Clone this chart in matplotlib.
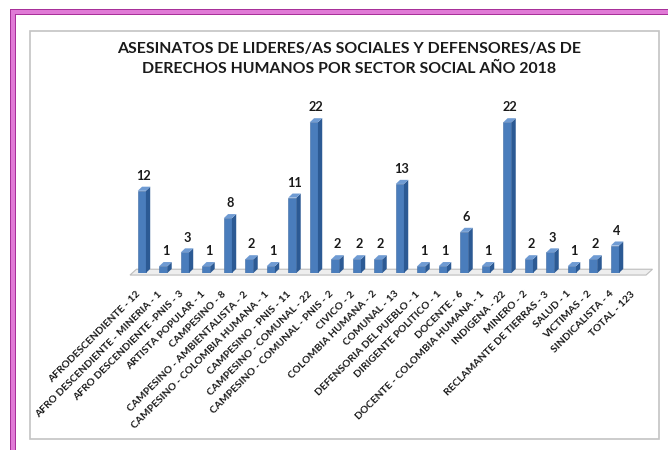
import matplotlib
matplotlib.use('Agg')
import matplotlib.pyplot as plt
from matplotlib.patches import Polygon, Rectangle

categorias = ['AFRODESCENDIENTE - 12', 'AFRO DESCENDIENTE - MINERIA - 1',
              'AFRO DESCENDIENTE -PNIS - 3', 'ARTISTA POPULAR - 1', 'CAMPESINO - 8',
              'CAMPESINO - AMBIENTALISTA - 2', 'CAMPESINO - COLOMBIA HUMANA - 1',
              'CAMPESINO - PNIS - 11', 'CAMPESINO - COMUNAL - 22',
              'CAMPESINO - COMUNAL - PNIS - 2', 'CIVICO - 2', 'COLOMBIA HUMANA - 2',
              'COMUNAL - 13', 'DEFENSORIA DEL PUEBLO - 1', 'DIRIGENTE POLITICO - 1',
              'DOCENTE - 6', 'DOCENTE - COLOMBIA HUMANA - 1', 'INDIGENA - 22',
              'MINERO - 2', 'RECLAMANTE DE TIERRAS - 3', 'SALUD - 1', 'VICTIMAS - 2',
              'SINDICALISTA - 4', 'TOTAL - 123']
valores = [12, 1, 3, 1, 8, 2, 1, 11, 22, 2, 2, 2, 13, 1, 1, 6, 1, 22, 2, 3, 1, 2, 4]

titulo = 'ASESINATOS DE LIDERES/AS SOCIALES Y DEFENSORES/AS DE\nDERECHOS HUMANOS POR SECTOR SOCIAL AÑO 2018'

plt.rcParams['font.family'] = ['Lato', 'DejaVu Sans']

W, H = 668, 450
fig = plt.figure(figsize=(W / 100, H / 100), dpi=100)

# marco rosado
fig.add_artist(Rectangle((10 / W, 0), 6 / W, 1 - 9 / H, transform=fig.transFigure,
                         facecolor='#a8309a', edgecolor='none'))
fig.add_artist(Rectangle((10 / W, 1 - 15 / H), 1, 6 / H, transform=fig.transFigure,
                         facecolor='#a8309a', edgecolor='none'))
fig.add_artist(Rectangle((11 / W, 0), 4 / W, 1 - 10 / H, transform=fig.transFigure,
                         facecolor='#e07ad6', edgecolor='none'))
fig.add_artist(Rectangle((11 / W, 1 - 14 / H), 1, 4 / H, transform=fig.transFigure,
                         facecolor='#e07ad6', edgecolor='none'))
# recuadro gris
fig.add_artist(Rectangle((30 / W, 11 / H), 629 / W, 408 / H, transform=fig.transFigure,
                         facecolor='none', edgecolor='#c4c4c4', lw=1.2))

fig.text(349 / W, 1 - 42 / H, titulo, ha='center', va='top', fontsize=11.4,
         fontweight='bold', color='#1a1a1a', linespacing=1.5)

ax = fig.add_axes([130 / W, 177 / H, 522.5 / W, 164.4 / H])
ax.set_xlim(-0.55, 23.75)
ax.set_ylim(0, 24)
ax.axis('off')

ancho = 0.38
dx, dy = 0.2, 0.6
x = list(range(len(valores)))

# piso
x0, x1 = -0.55, 23.45
ax.add_patch(Polygon([(x0, -0.3), (x1, -0.3), (x1 + 0.3, 0.55), (x0 + 0.3, 0.55)],
                     closed=True, facecolor='#eeeeee', edgecolor='#bdbdbd', lw=0.8,
                     clip_on=False, zorder=1))

ax.bar(x, valores, width=ancho, color='#4a7dbc', edgecolor='#3d6aa3', lw=0.4, zorder=3)
for xi, v in zip(x, valores):
    xr = xi + ancho / 2
    xl = xi - ancho / 2
    ax.add_patch(Polygon([(xr, 0), (xr + dx, dy), (xr + dx, v + dy), (xr, v)],
                         closed=True, facecolor='#2c5a94', edgecolor='none', zorder=3))
    ax.add_patch(Polygon([(xl, v), (xr, v), (xr + dx, v + dy), (xl + dx, v + dy)],
                         closed=True, facecolor='#6f9bd3', edgecolor='none', zorder=3))
    ax.text(xi + dx / 2, v + dy + 0.7, str(v), ha='center', va='bottom',
            fontsize=9.2, fontweight='bold', color='#1a1a1a', clip_on=False)

for i, lab in enumerate(categorias):
    ax.annotate(lab, xy=(i, 0), xytext=(-2, -14), textcoords='offset points',
                rotation=45, rotation_mode='anchor', ha='right', va='center',
                fontsize=7.4, fontweight='bold', color='#1a1a1a', annotation_clip=False)

fig.savefig('out.png', dpi=100)
